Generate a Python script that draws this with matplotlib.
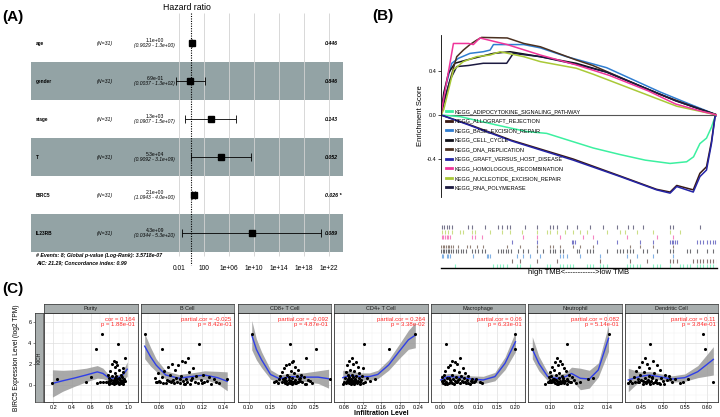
import numpy as np
import matplotlib
matplotlib.use('Agg')
import matplotlib.pyplot as plt
from matplotlib.lines import Line2D
from matplotlib.transforms import blended_transform_factory

plt.rcParams['font.family'] = ['Liberation Sans', 'DejaVu Sans']

W, H = 720, 417

# ---------------- panel A: forest plot ----------------
forest_vars = ['age', 'gender', 'stage', 'T', 'BIRC5', 'IL23RB']
forest_hr = [1.1, 0.69, 1.3e3, 5.3e4, 2.1, 4.3e9]
forest_lo = [0.9029, 0.0037, 0.0907, 0.9092, 1.0943, 0.0344]
forest_hi = [1.3, 1.3e2, 1.5e7, 3.1e9, 4.0, 5.3e20]
forest_hr_txt = ['1.1e+00', '6.9e-01', '1.3e+03', '5.3e+04', '2.1e+00', '4.3e+09']
forest_ci_txt = ['(0.9029 - 1.3e+00)', '(0.0037 - 1.3e+02)', '(0.0907 - 1.5e+07)',
                 '(0.9092 - 3.1e+09)', '(1.0943 - 4.0e+00)', '(0.0344 - 5.3e+20)']
forest_p = ['0.446', '0.846', '0.143', '0.052', '0.026 *', '0.089']
hr_ticks = [1e-2, 1e2, 1e6, 1e10, 1e14, 1e18, 1e22]
hr_tick_labels = ['0.01', '100', '1e+06', '1e+10', '1e+14', '1e+18', '1e+22']

# ---------------- panel B: GSEA ----------------
gsea_names = ['KEGG_ADIPOCYTOKINE_SIGNALING_PATHWAY', 'KEGG_ALLOGRAFT_REJECTION',
              'KEGG_BASE_EXCISION_REPAIR', 'KEGG_CELL_CYCLE', 'KEGG_DNA_REPLICATION',
              'KEGG_GRAFT_VERSUS_HOST_DISEASE', 'KEGG_HOMOLOGOUS_RECOMBINATION',
              'KEGG_NUCLEOTIDE_EXCISION_REPAIR', 'KEGG_RNA_POLYMERASE']
gsea_colors = ['#3CF0A0', '#3A1A14', '#2F7DD1', '#101018', '#4B3020',
               '#2424A6', '#F0359A', '#A9C937', '#1C1A40']

adipo_f = [0, 0.07, 0.2, 0.31, 0.383, 0.45, 0.552, 0.65, 0.74, 0.83, 0.89, 0.915, 0.938, 0.962, 0.98, 0.995, 1.0]
adipo_es = [0, -0.015, -0.09, -0.15, -0.167, -0.22, -0.30, -0.36, -0.41, -0.44, -0.425, -0.38, -0.26, -0.21, -0.11, 0.0, 0]
allo_f = [0, 0.1, 0.256, 0.479, 0.65, 0.781, 0.83, 0.854, 0.914, 0.938, 0.962, 0.98, 0.993, 1.0]
allo_es = [0, -0.085, -0.23, -0.40, -0.555, -0.675, -0.70, -0.64, -0.68, -0.53, -0.47, -0.24, -0.01, 0]
base_f = [0, 0.014, 0.039, 0.063, 0.105, 0.153, 0.178, 0.19, 0.30, 0.36, 0.455, 0.6, 0.793, 0.9, 1.0]
base_es = [0, 0.23, 0.47, 0.515, 0.56, 0.575, 0.59, 0.64, 0.64, 0.61, 0.53, 0.43, 0.21, 0.1, 0]
cell_f = [0, 0.01, 0.027, 0.05, 0.093, 0.141, 0.19, 0.25, 0.36, 0.49, 0.6, 0.85, 1.0]
cell_es = [0, 0.2, 0.38, 0.47, 0.5, 0.53, 0.56, 0.575, 0.53, 0.47, 0.39, 0.13, 0]
dna_f = [0, 0.01, 0.033, 0.057, 0.081, 0.105, 0.129, 0.147, 0.24, 0.30, 0.36, 0.49, 0.55, 0.79, 0.91, 1.0]
dna_es = [0, 0.1, 0.32, 0.53, 0.59, 0.64, 0.68, 0.705, 0.70, 0.65, 0.62, 0.50, 0.45, 0.19, 0.08, 0]
graft_f = [0, 0.1, 0.256, 0.479, 0.65, 0.781, 0.83, 0.854, 0.914, 0.938, 0.962, 0.98, 0.993, 1.0]
graft_es = [0, -0.09, -0.236, -0.41, -0.56, -0.68, -0.71, -0.65, -0.70, -0.56, -0.50, -0.26, -0.015, 0]
homo_f = [0, 0.005, 0.045, 0.1, 0.117, 0.141, 0.24, 0.36, 0.49, 0.61, 0.75, 0.85, 0.95, 1.0]
homo_es = [0, 0.08, 0.65, 0.65, 0.64, 0.70, 0.64, 0.545, 0.455, 0.36, 0.22, 0.10, 0.03, 0]
nuc_f = [0, 0.01, 0.045, 0.081, 0.129, 0.178, 0.214, 0.30, 0.36, 0.49, 0.552, 0.854, 1.0]
nuc_es = [0, 0.05, 0.41, 0.485, 0.53, 0.545, 0.575, 0.53, 0.485, 0.425, 0.37, 0.08, 0]
rna_f = [0, 0.01, 0.033, 0.057, 0.1, 0.153, 0.238, 0.262, 0.36, 0.49, 0.6, 0.85, 1.0]
rna_es = [0, 0.12, 0.32, 0.44, 0.45, 0.47, 0.47, 0.56, 0.53, 0.46, 0.39, 0.13, 0]

adipo_hits = [0.051, 0.190, 0.202, 0.214, 0.226, 0.238, 0.274, 0.286, 0.322, 0.383, 0.395, 0.431, 0.443, 0.455,
              0.467, 0.479, 0.528, 0.540, 0.552, 0.576, 0.588, 0.600, 0.673, 0.685, 0.697, 0.709, 0.721, 0.769,
              0.781, 0.793, 0.830, 0.866, 0.878, 0.890, 0.902, 0.926, 0.938, 0.951, 0.963, 0.975, 0.987, 0.999]
allo_hits = [0.256, 0.286, 0.347, 0.419, 0.576, 0.685, 0.745, 0.830, 0.842, 0.854, 0.914, 0.926, 0.938, 0.951,
             0.963, 0.975, 0.987, 0.999]
base_hits = [0.002, 0.008, 0.021, 0.027, 0.033, 0.117, 0.165, 0.171, 0.178, 0.274, 0.298, 0.322, 0.359, 0.431,
             0.443, 0.455, 0.504, 0.576, 0.673, 0.709, 0.769, 0.842]
cell_hits = [0.0, 0.006, 0.012, 0.018, 0.024, 0.030, 0.036, 0.045, 0.054, 0.063, 0.071, 0.081, 0.091, 0.111,
             0.123, 0.135, 0.147, 0.159, 0.208, 0.216, 0.226, 0.235, 0.244, 0.252, 0.280, 0.298, 0.316, 0.347,
             0.371, 0.395, 0.405, 0.414, 0.431, 0.443, 0.492, 0.501, 0.528, 0.540, 0.552, 0.600, 0.636, 0.649,
             0.661, 0.673, 0.685, 0.697, 0.733, 0.745, 0.781, 0.830, 0.842, 0.890, 0.902, 0.926, 0.963, 0.987]
dna_hits = [0.0, 0.006, 0.012, 0.018, 0.024, 0.030, 0.036, 0.042, 0.063, 0.093, 0.105, 0.129, 0.153, 0.238,
            0.286, 0.347, 0.395, 0.407, 0.431, 0.479, 0.504, 0.552, 0.685, 0.721, 0.769, 0.842]
graft_hits = [0.256, 0.347, 0.473, 0.479, 0.486, 0.564, 0.636, 0.721, 0.769, 0.830, 0.836, 0.842, 0.848, 0.854,
              0.926, 0.938, 0.951, 0.963, 0.975, 0.987, 0.993]
homo_hits = [0.002, 0.008, 0.014, 0.021, 0.027, 0.033, 0.111, 0.123, 0.147, 0.298, 0.347, 0.431, 0.516, 0.552,
             0.673, 0.781, 0.842]
nuc_hits = [0.002, 0.014, 0.027, 0.039, 0.069, 0.081, 0.111, 0.123, 0.178, 0.220, 0.250, 0.292, 0.347, 0.383,
            0.395, 0.419, 0.449, 0.479, 0.504, 0.528, 0.600, 0.649, 0.667, 0.709, 0.769, 0.830, 0.866]
rna_hits = [0.002, 0.011, 0.021, 0.030, 0.041, 0.099, 0.111, 0.159, 0.208, 0.220, 0.238, 0.250, 0.304, 0.347,
            0.395, 0.407, 0.419, 0.455, 0.492, 0.540, 0.588, 0.636, 0.679, 0.697, 0.733, 0.830, 0.842, 0.938]

# ---------------- panel C: TIMER scatter ----------------
cell_titles = ['Purity', 'B Cell', 'CD8+ T Cell', 'CD4+ T Cell', 'Macrophage', 'Neutrophil', 'Dendritic Cell']
cell_labels = ['cor = 0.164\np = 1.88e-01', 'partial.cor = -0.025\np = 8.42e-01',
               'partial.cor = -0.092\np = 4.87e-01', 'partial.cor = 0.264\np = 3.38e-02',
               'partial.cor = 0.06\np = 6.33e-01', 'partial.cor = 0.082\np = 5.14e-01',
               'partial.cor = 0.11\np = 3.84e-01']
cell_xlims = [(0.177, 1.01), (0.063, 0.147), (0.0986, 0.29), (0.0755, 0.2436),
              (-0.007, 0.214), (0.0844, 0.1431), (0.4125, 0.6177)]
cell_ticks = [[0.2, 0.4, 0.6, 0.8, 1.0], [0.08, 0.10, 0.12, 0.14], [0.10, 0.15, 0.20, 0.25],
              [0.08, 0.12, 0.16, 0.20, 0.24], [0.00, 0.05, 0.10, 0.15, 0.20], [0.10, 0.12, 0.14],
              [0.45, 0.50, 0.55, 0.60]]
cell_tick_labels = [['0.2', '0.4', '0.6', '0.8', '1.0'], ['0.08', '0.10', '0.12', '0.14'],
                    ['0.10', '0.15', '0.20', '0.25'], ['0.08', '0.12', '0.16', '0.20', '0.24'],
                    ['0.00', '0.05', '0.10', '0.15', '0.20'], ['0.10', '0.12', '0.14'],
                    ['0.45', '0.50', '0.55', '0.60']]

birc5_y = [4.85, 3.95, 3.45, 2.6, 2.3, 2.15, 2.0, 1.95, 1.75, 1.6, 1.45, 1.3, 1.2, 1.1, 1.0, 0.95, 0.9, 0.85,
           0.8, 0.75, 0.7, 0.65, 0.6, 0.6, 0.55, 0.5, 0.5, 0.45, 0.45, 0.4, 0.4, 0.35, 0.35, 0.3, 0.3, 0.3,
           0.25, 0.25, 0.25, 0.2, 0.2, 0.2, 0.15, 0.15, 0.1, 0.1, 0.05, 0.3, 0.2, 0.4, 0.55, 0.15, 0.7, 0.3,
           0.25, 0.1]
purity_x = [0.72, 0.89, 0.655, 0.965, 0.845, 0.87, 0.83, 0.88, 0.86, 0.94, 0.90, 0.81, 0.95, 0.855, 0.78, 0.92,
            0.83, 0.87, 0.60, 0.93, 0.80, 0.90, 0.87, 0.96, 0.24, 0.85, 0.94, 0.82, 0.91, 0.88, 0.79, 0.93, 0.86,
            0.73, 0.76, 0.84, 0.89, 0.95, 0.55, 0.67, 0.87, 0.92, 0.19, 0.81, 0.90, 0.94, 0.85, 0.78, 0.83, 0.97,
            0.88, 0.91, 0.86, 0.70, 0.93, 0.80]
bcell_x = [0.0666, 0.117, 0.0823, 0.107, 0.101, 0.104, 0.092, 0.098, 0.088, 0.112, 0.095, 0.085, 0.108, 0.079,
           0.121, 0.090, 0.100, 0.114, 0.083, 0.126, 0.096, 0.076, 0.105, 0.131, 0.143, 0.087, 0.110, 0.093,
           0.119, 0.080, 0.102, 0.125, 0.089, 0.097, 0.113, 0.078, 0.091, 0.106, 0.122, 0.084, 0.099, 0.116,
           0.086, 0.094, 0.103, 0.128, 0.109, 0.081, 0.120, 0.092, 0.099, 0.136, 0.111, 0.077, 0.133, 0.104]
cd8_x = [0.1074, 0.195, 0.256, 0.231, 0.203, 0.199, 0.193, 0.186, 0.208, 0.182, 0.214, 0.197, 0.178, 0.205,
         0.221, 0.189, 0.173, 0.211, 0.194, 0.227, 0.184, 0.201, 0.169, 0.216, 0.287, 0.192, 0.236, 0.181,
         0.207, 0.198, 0.163, 0.219, 0.187, 0.158, 0.212, 0.196, 0.176, 0.224, 0.204, 0.191, 0.245, 0.183,
         0.209, 0.167, 0.199, 0.229, 0.188, 0.214, 0.196, 0.241, 0.179, 0.206, 0.218, 0.185, 0.202, 0.233]
cd4_x = [0.233, 0.123, 0.1757, 0.0964, 0.092, 0.105, 0.099, 0.087, 0.110, 0.1215, 0.094, 0.102, 0.085, 0.113,
         0.097, 0.089, 0.107, 0.118, 0.091, 0.100, 0.083, 0.112, 0.095, 0.104, 0.147, 0.088, 0.098, 0.116,
         0.093, 0.106, 0.086, 0.101, 0.137, 0.090, 0.109, 0.096, 0.081, 0.103, 0.114, 0.092, 0.099, 0.120,
         0.084, 0.108, 0.095, 0.078, 0.102, 0.126, 0.097, 0.111, 0.089, 0.100, 0.130, 0.093, 0.106, 0.115]
macro_x = [0.200, 0.015, 0.200, 0.052, 0.031, 0.039, 0.044, 0.026, 0.020, 0.059, 0.035, 0.012, 0.048, 0.066,
           0.008, 0.029, 0.055, 0.074, 0.004, 0.041, 0.062, 0.018, 0.085, 0.033, 0.095, 0.010, 0.047, 0.070,
           0.024, 0.057, 0.003, 0.080, 0.038, 0.105, 0.014, 0.064, 0.027, 0.089, 0.045, 0.006, 0.072, 0.021,
           0.053, 0.110, 0.036, 0.078, 0.016, 0.060, 0.030, 0.092, 0.050, 0.068, 0.022, 0.042, 0.083, 0.011]
neutro_x = [0.1408, 0.112, 0.0873, 0.1044, 0.1069, 0.1033, 0.1085, 0.1052, 0.1011, 0.1098, 0.1023, 0.1110,
            0.0995, 0.1062, 0.1132, 0.1040, 0.1005, 0.1078, 0.1150, 0.0988, 0.1057, 0.1296, 0.1019, 0.1120,
            0.1265, 0.1036, 0.1090, 0.0999, 0.1165, 0.1048, 0.1013, 0.1104, 0.1070, 0.0982, 0.1143, 0.1028,
            0.1083, 0.1007, 0.1210, 0.1055, 0.1095, 0.1030, 0.1180, 0.1065, 0.0961, 0.1115, 0.1044, 0.1002,
            0.1074, 0.1125, 0.1026, 0.1060, 0.1091, 0.0993, 0.1138, 0.1050]
dc_x = [0.590, 0.470, 0.594, 0.457, 0.476, 0.451, 0.462, 0.485, 0.444, 0.468, 0.491, 0.438, 0.456, 0.479,
        0.503, 0.447, 0.466, 0.512, 0.432, 0.474, 0.495, 0.459, 0.527, 0.441, 0.556, 0.483, 0.464, 0.508,
        0.449, 0.472, 0.425, 0.498, 0.454, 0.613, 0.481, 0.436, 0.467, 0.520, 0.445, 0.489, 0.460, 0.537,
        0.429, 0.477, 0.453, 0.501, 0.470, 0.442, 0.486, 0.462, 0.515, 0.420, 0.473, 0.545, 0.458, 0.493]

# loess fits: x, fit, lower, upper
purity_fit = ([0.19, 0.30, 0.42, 0.55, 0.67, 0.73, 0.80, 0.87, 0.93, 0.99],
              [0.15, 0.40, 0.65, 0.95, 1.25, 1.10, 0.62, 0.70, 0.80, 1.50],
              [-1.15, -0.60, -0.15, 0.30, 0.65, 0.60, 0.35, 0.45, 0.50, 0.80],
              [1.45, 1.40, 1.45, 1.60, 1.85, 1.60, 0.90, 0.95, 1.10, 2.20])
bcell_fit = ([0.0666, 0.072, 0.0772, 0.0862, 0.0982, 0.110, 0.1223, 0.1344, 0.1434],
             [3.70, 2.70, 1.90, 0.95, 0.65, 0.80, 0.95, 0.70, 0.35],
             [2.5, 1.8, 1.3, 0.55, 0.3, 0.45, 0.55, 0.1, -0.55],
             [4.9, 3.6, 2.5, 1.35, 1.0, 1.15, 1.35, 1.3, 1.25])
cd8_fit = ([0.1074, 0.118, 0.130, 0.1506, 0.171, 0.1986, 0.226, 0.260, 0.284],
           [4.75, 3.40, 2.40, 1.00, 0.60, 0.80, 0.75, 0.75, 0.60],
           [3.35, 2.4, 1.65, 0.55, 0.25, 0.45, 0.35, 0.15, -0.3],
           [6.15, 4.4, 3.15, 1.45, 0.95, 1.15, 1.15, 1.35, 1.5])
cd4_fit = ([0.0778, 0.0928, 0.1166, 0.1345, 0.1524, 0.1757, 0.2002, 0.218, 0.2329],
           [0.70, 0.90, 0.80, 0.80, 1.00, 1.90, 3.30, 4.30, 4.75],
           [0.0, 0.45, 0.45, 0.45, 0.6, 1.4, 2.6, 3.4, 3.55],
           [1.4, 1.35, 1.15, 1.15, 1.4, 2.4, 4.0, 5.2, 5.95])
macro_fit = ([0.0, 0.0195, 0.051, 0.082, 0.114, 0.145, 0.172, 0.200],
             [0.48, 0.80, 0.73, 0.57, 0.48, 0.80, 2.06, 4.12],
             [0.03, 0.5, 0.43, 0.27, 0.13, 0.4, 1.46, 3.17],
             [0.93, 1.1, 1.03, 0.87, 0.83, 1.2, 2.66, 5.07])
neutro_fit = ([0.0873, 0.0919, 0.0981, 0.1044, 0.1106, 0.1148, 0.121, 0.1273, 0.1336, 0.1408],
              [3.43, 2.06, 0.80, 0.63, 0.80, 1.10, 0.64, 0.57, 1.43, 4.45],
              [2.5, 1.35, 0.4, 0.3, 0.45, 0.5, -0.45, -0.3, 0.75, 3.2],
              [4.6, 2.75, 1.2, 0.95, 1.15, 1.7, 1.6, 1.4, 2.1, 5.7])
dc_fit = ([0.420, 0.4456, 0.4676, 0.4897, 0.519, 0.5486, 0.578, 0.6133],
          [0.48, 0.80, 0.95, 0.80, 0.57, 0.70, 1.27, 2.44],
          [-0.64, 0.35, 0.6, 0.5, 0.27, 0.35, 0.7, 0.95],
          [1.59, 1.25, 1.3, 1.1, 0.87, 1.05, 1.85, 3.65])


def rect(x0, y0, x1, y1):
    # pixel box (top-left origin) -> figure fraction
    return [x0 / W, 1 - y1 / H, (x1 - x0) / W, (y1 - y0) / H]


fig = plt.figure(figsize=(7.2, 4.17), dpi=100)

fig.text(2 / W, 1 - 17 / H, '(A)', fontsize=11, fontweight='bold', va='center')
fig.text(372 / W, 1 - 16 / H, '(B)', fontsize=11, fontweight='bold', va='center')
fig.text(2 / W, 1 - 289 / H, '(C)', fontsize=11, fontweight='bold', va='center')

# ---------------- A ----------------
axA = fig.add_axes(rect(31, 12, 343, 270))
axA.set_xscale('log')
axA.set_xlim(10 ** -25.68, 10 ** 24.24)
axA.set_ylim(5.97, -0.816)
axA.axis('off')
rows = np.arange(len(forest_vars))
for i in rows:
    if i % 2 == 1:
        axA.axhspan(i - 0.49, i + 0.49, color='#93A3A5', lw=0, zorder=0)
axA.vlines(hr_ticks, -0.79, 5.6, color='#d2d2d2', lw=0.6, zorder=1)
axA.vlines(1, -0.79, 5.85, color='black', lw=0.8, ls=(0, (1, 1.2)), zorder=2)
for t, lab in zip(hr_ticks, hr_tick_labels):
    axA.text(t, 5.92, lab, ha='center', va='center', fontsize=4.8)
axA.hlines(rows, forest_lo, forest_hi, color='black', lw=0.6, zorder=3)
axA.vlines(forest_lo, rows - 0.1, rows + 0.1, color='black', lw=0.6, zorder=3)
axA.vlines(forest_hi, rows - 0.1, rows + 0.1, color='black', lw=0.6, zorder=3)
axA.plot(forest_hr, rows, 's', ms=4.3, color='black', zorder=4)

tr = blended_transform_factory(axA.transAxes, axA.transData)
for i in rows:
    axA.text(0.016, i, forest_vars[i], transform=tr, fontsize=3.4, fontweight='bold', va='center')
    axA.text(0.237, i, '(N=31)', transform=tr, fontsize=3.8, style='italic', va='center', ha='center')
    axA.text(0.397, i - 0.07, forest_hr_txt[i], transform=tr, fontsize=3.6, va='center', ha='center')
    axA.text(0.397, i + 0.07, forest_ci_txt[i], transform=tr, fontsize=3.6, style='italic',
             va='center', ha='center')
    axA.text(0.942, i, forest_p[i], transform=tr, fontsize=3.8, style='italic', fontweight='bold',
             va='center', ha='left')

fig.text(187 / W, 1 - 8 / H, 'Hazard ratio', fontsize=6.3, ha='center', va='center')
fig.text(36 / W, 1 - 255 / H, '# Events: 8; Global p-value (Log-Rank): 3.5718e-07',
         fontsize=3.8, fontweight='bold', style='italic', va='center')
fig.text(36 / W, 1 - 263 / H, 'AIC: 21.29; Concordance index: 0.99',
         fontsize=3.8, fontweight='bold', style='italic', va='center')

# ---------------- B ----------------
curves = [(adipo_f, adipo_es), (allo_f, allo_es), (base_f, base_es), (cell_f, cell_es),
          (dna_f, dna_es), (graft_f, graft_es), (rna_f, rna_es), (nuc_f, nuc_es), (homo_f, homo_es)]
curve_colors = [gsea_colors[0], gsea_colors[1], gsea_colors[2], gsea_colors[3], gsea_colors[4],
                gsea_colors[5], gsea_colors[8], gsea_colors[7], gsea_colors[6]]

axB = fig.add_axes(rect(441, 35, 717, 197))
axB.set_xlim(0, 1)
axB.set_ylim(-0.745, 0.727)
axB.axhline(0, color='#555555', lw=0.8, zorder=1)
for (f, es), c in zip(curves, curve_colors):
    axB.plot(f, es, color=c, lw=1.1, zorder=2)
for s in ['top', 'right', 'bottom']:
    axB.spines[s].set_visible(False)
axB.spines['left'].set_linewidth(0.6)
axB.set_xticks([])
axB.set_yticks([-0.4, 0.0, 0.4])
axB.set_yticklabels(['-0.4', '0.0', '0.4'])
axB.tick_params(axis='y', labelsize=4, length=2, width=0.5, pad=1)
axB.set_ylabel('Enrichment Score', fontsize=5.5, labelpad=2)
axB.patch.set_alpha(0)

handles = [Line2D([0], [0], color=c, lw=2) for c in gsea_colors]
axB.legend(handles, gsea_names, loc='upper left', bbox_to_anchor=(446 / W, 1 - 109 / H),
           bbox_transform=fig.transFigure, frameon=False, fontsize=4, borderpad=0,
           borderaxespad=0, handlelength=1.0, handletextpad=0.6, labelspacing=0.82)

axR = fig.add_axes(rect(441, 222, 717, 268))
axR.set_xlim(0, 1)
axR.set_ylim(-0.4, 9.0)
hits = [adipo_hits, allo_hits, base_hits, cell_hits, dna_hits, graft_hits, homo_hits, nuc_hits, rna_hits]
for k, (h, c) in enumerate(zip(hits, gsea_colors)):
    axR.vlines(h, k - 0.4, k + 0.4, color=c, lw=0.8, alpha=0.6)
for s in ['top', 'right', 'left']:
    axR.spines[s].set_visible(False)
axR.spines['bottom'].set_linewidth(1.0)
axR.set_xticks([])
axR.set_yticks([])
axR.set_xlabel('high TMB<------------>low TMB', fontsize=5.5, labelpad=1)

# ---------------- C ----------------
cell_x = [purity_x, bcell_x, cd8_x, cd4_x, macro_x, neutro_x, dc_x]
cell_fits = [purity_fit, bcell_fit, cd8_fit, cd4_fit, macro_fit, neutro_fit, dc_fit]
strip_color = '#A8AEAE'
ylim_c = (-1.62, 6.86)
top_c, bot_c = 313, 402

for i in range(7):
    x0 = 44 + 96.83 * i
    ax = fig.add_axes(rect(x0, top_c, x0 + 93.5, bot_c))
    ax.set_xlim(cell_xlims[i])
    ax.set_ylim(ylim_c)
    ax.set_axisbelow(True)
    fx, fy, flo, fhi = cell_fits[i]
    ax.fill_between(fx, flo, fhi, color='#9a9a9a', alpha=0.85, lw=0, zorder=2)
    ax.plot(fx, fy, color='#2F3FE8', lw=1.0, zorder=3)
    ax.scatter(cell_x[i], birc5_y, s=5, color='black', lw=0, zorder=4)
    ticks = cell_ticks[i]
    ax.set_xticks(ticks)
    ax.set_xticklabels(cell_tick_labels[i])
    step = ticks[1] - ticks[0]
    ax.set_xticks([t - step / 2 for t in ticks] + [ticks[-1] + step / 2], minor=True)
    ax.set_yticks([0, 2, 4, 6])
    ax.set_yticks([-1, 1, 3, 5], minor=True)
    ax.set_yticklabels([])
    ax.grid(which='major', color='#dedede', lw=0.5)
    ax.grid(which='minor', color='#efefef', lw=0.3)
    ax.tick_params(axis='x', which='major', labelsize=4, length=1.5, width=0.4, pad=0.8, color='#333333')
    ax.tick_params(axis='y', which='major', length=0)
    ax.tick_params(which='minor', length=0)
    for s in ax.spines.values():
        s.set_color('#333333')
        s.set_linewidth(0.6)
    ax.text(0.97, 0.96, cell_labels[i], transform=ax.transAxes, ha='right', va='top',
            fontsize=4.3, color='#FF2A2A', linespacing=1.0, zorder=5)

    st = fig.add_axes(rect(x0, 304, x0 + 93.5, top_c))
    st.set_facecolor(strip_color)
    st.set_xticks([])
    st.set_yticks([])
    for s in st.spines.values():
        s.set_color('#333333')
        s.set_linewidth(0.5)
    st.text(0.5, 0.45, cell_titles[i], transform=st.transAxes, ha='center', va='center',
            fontsize=4, color='#1a1a1a')

ks = fig.add_axes(rect(35, top_c, 43, bot_c))
ks.set_facecolor(strip_color)
ks.set_ylim(ylim_c)
ks.set_xticks([])
ks.set_yticks([0, 2, 4, 6])
ks.set_yticklabels(['0', '2', '4', '6'])
ks.tick_params(axis='y', labelsize=4, length=1.5, width=0.4, pad=1, color='#333333')
for s in ks.spines.values():
    s.set_color('#333333')
    s.set_linewidth(0.5)
ks.text(0.5, 0.5, 'KICH', transform=ks.transAxes, rotation=90, ha='center', va='center',
        fontsize=3.8, color='#1a1a1a')

fig.text(17 / W, 1 - 358 / H, 'BIRC5 Expression Level (log2 TPM)', rotation=90,
         ha='center', va='center', fontsize=4.8)
fig.text(381 / W, 1 - 413.5 / H, 'Infiltration Level', ha='center', va='center',
         fontsize=5, fontweight='bold')

fig.savefig('out.png', dpi=100)
